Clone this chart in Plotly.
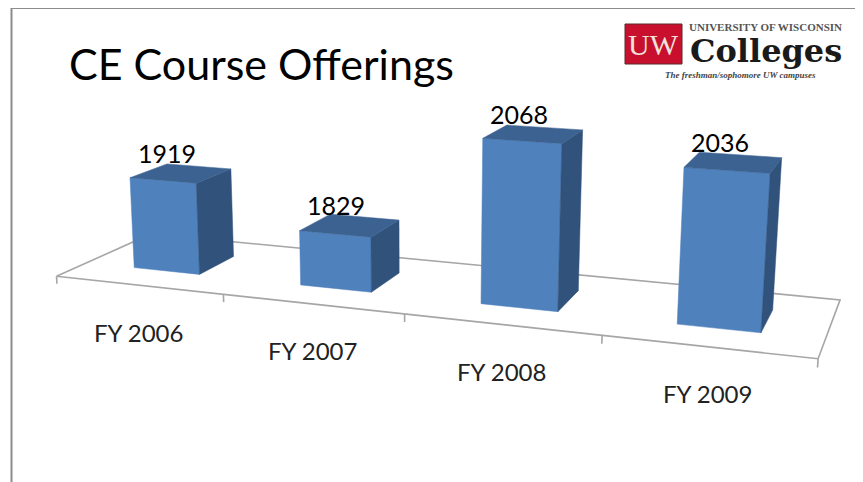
import numpy as np
import plotly.graph_objects as go

fiscal_years = ["FY 2006", "FY 2007", "FY 2008", "FY 2009"]
offerings = [1919, 1829, 2068, 2036]

# hidden baseline of the value axis and the bar footprint, in axis units
axis_base = 1702.04
bar_width = 0.4019
bar_depth = 0.4006

# camera of the tilted 3D view
eye = np.array([1.3052, -3.6772, 1.1171])
center = np.array([-0.0351, 0.0411, 0.1136])
up = np.array([-0.0025, 0.0, 1.0])
focal = 1547.76
depth_scale = 0.5021
height_scale = 0.00116
view_cx, view_cy = 431.5, 241.0


def to_screen(x, y, v):
    pts = np.c_[(np.asarray(x, float) - 2) / 2,
                (np.asarray(y, float) - 0.5) * depth_scale,
                (np.asarray(v, float) - axis_base) * height_scale]
    f = (center - eye) / np.linalg.norm(center - eye)
    r = np.cross(f, up)
    r = r / np.linalg.norm(r)
    u = np.cross(r, f)
    d = pts - eye
    z = d @ f
    return view_cx + focal * (d @ r) / z, view_cy - focal * (d @ u) / z


def face(x, y, v, color):
    sx, sy = to_screen(x + x[:1], y + y[:1], v + v[:1])
    return go.Scatter(x=sx, y=sy, mode="lines", fill="toself", fillcolor=color,
                      line=dict(color=color, width=0.5), hoverinfo="skip")


def floor_line(x, y, v):
    sx, sy = to_screen(x, y, v)
    return go.Scatter(x=sx, y=sy, mode="lines", line=dict(color="#A6A6A6", width=1.6), hoverinfo="skip")


def label(x, y, text, size, family="Lato", color="black", **kw):
    return dict(x=x, y=y, xref="x", yref="y", text=text, showarrow=False,
                font=dict(family=family, size=size, color=color), **kw)


fig = go.Figure()
fig.add_trace(floor_line([0, 4, 4, 0, 0], [0, 0, 1, 1, 0], [axis_base] * 5))
for t in range(5):
    fig.add_trace(floor_line([t, t], [0, 0], [axis_base, axis_base - 18]))

annots = []
for i, v in enumerate(offerings):
    x0, x1 = i + 0.5 - bar_width / 2, i + 0.5 + bar_width / 2
    y0, y1 = 0.5 - bar_depth / 2, 0.5 + bar_depth / 2
    b = axis_base
    fig.add_trace(face([x0, x1, x1, x0], [y0, y0, y0, y0], [b, b, v, v], "#4F81BD"))
    fig.add_trace(face([x1, x1, x1, x1], [y0, y1, y1, y0], [b, b, v, v], "#31527B"))
    fig.add_trace(face([x0, x1, x1, x0], [y0, y0, y1, y1], [v, v, v, v], "#3C6291"))
    tx, ty = to_screen([i + 0.5], [0.5], [v])
    annots.append(label(tx[0], ty[0], str(v), 25, xshift=-14, yshift=20))
    lx, ly = to_screen([i + 0.5], [0], [b])
    annots.append(label(lx[0], ly[0], fiscal_years[i], 24, color="#222222", yshift=-47))

annots += [
    label(67, 63, "CE Course Offerings", 43, xanchor="left"),
    label(653, 44, "UW", 30, family="Liberation Serif", color="#EFE3DC"),
    label(765.5, 26.5, "<b>UNIVERSITY OF WISCONSIN</b>", 11, family="Liberation Serif", color="#555555"),
    label(765.5, 51, "<b>Colleges</b>", 32, family="DejaVu Serif", color="#1A1A1A"),
    label(740, 75, "<b><i>The freshman/sophomore UW campuses</i></b>", 9, family="Liberation Serif", color="#444444"),
]

# the page body sits 8px in from the window, so the axes start at 8
fig.update_layout(
    width=855, height=474, margin=dict(l=0, r=0, t=0, b=0),
    paper_bgcolor="white", plot_bgcolor="white", showlegend=False,
    xaxis=dict(visible=False, range=[8, 863]),
    yaxis=dict(visible=False, range=[482, 8]),
    annotations=annots,
    shapes=[
        dict(type="path", path="M 11.5 482 L 11.5 8 M 11.5 8 L 863 8", xref="x", yref="y",
             line=dict(color="#8C8C8C", width=2)),
        dict(type="rect", x0=625, x1=682, y0=24, y1=64, xref="x", yref="y", fillcolor="#C8102E",
             line=dict(color="#5A2A2A", width=1), layer="below"),
    ],
)
fig.write_html("out.html")
